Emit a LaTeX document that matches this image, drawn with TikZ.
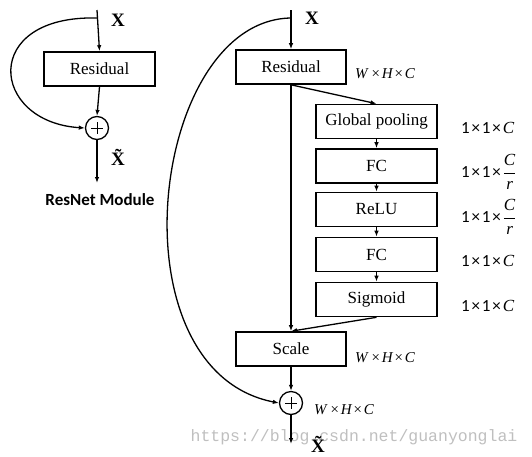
\documentclass[tikz,border=0pt]{standalone}
\usepackage{fontspec}
\setmainfont{Liberation Serif}
\newfontfamily\carl{Carlito}
\newfontfamily\wmono{Liberation Mono}
\usetikzlibrary{arrows.meta,calc}
\tikzset{
  box/.style={draw, line width=1.6pt, minimum height=34pt, inner sep=0pt, font=\fontsize{17}{20}\selectfont},
  sbox/.style={box, minimum width=121pt},
  rbox/.style={box, minimum width=110pt},
  arr/.style={line width=1.3pt, -{Latex[length=6pt,width=4.5pt]}},
  plus/.style={draw, circle, line width=1.3pt, minimum size=23pt, inner sep=0pt},
  xlab/.style={font=\fontsize{19}{21}\selectfont\bfseries},
  dimlab/.style={anchor=west, inner sep=0pt, font=\fontsize{17}{19}\selectfont},
  whc/.style={anchor=west, inner sep=0pt, font=\fontsize{15}{17}\selectfont\itshape},
}
\newcommand{\onebyone}{{\carl 1\hspace{1.8pt}×\hspace{1.8pt}1\hspace{1.8pt}×\hspace{2pt}}}
\newcommand{\whcdim}{W\hspace{3pt}×\hspace{1pt}H\hspace{1pt}×\hspace{1pt}C}
\begin{document}
\begin{tikzpicture}[x=1pt,y=-1pt]
\useasboundingbox (0,0) rectangle (532,456);
% watermark
\node[text=black!25, font=\fontsize{16.5}{18}\selectfont\wmono] (wm) at (354,437) {https://blog.csdn.net/guanyonglai};

% ---------- left: ResNet module ----------
\coordinate (lt) at (97,10);
\coordinate (lc) at (97,18);
\node[box, minimum width=111pt] (rl) at (99.5,69) {Residual};
\node[plus] (cl) at (97,128) {};
\draw[line width=0.6pt] ($(cl.center)+(-6,0)$) -- ($(cl.center)+(6,0)$) ($(cl.center)+(0,-6)$) -- ($(cl.center)+(0,6)$);
\coordinate (lb) at (97,183);
\draw[arr] (lt) -- (rl.north);
\draw[arr] (rl.south) -- (cl.north);
\draw[arr] (cl.south) -- (lb);
\draw[arr] (lc) .. controls (-20,15) and (-10,122) .. (cl.west);
\node[xlab] (lx) at (118,20) {X};
\node[xlab] (lxt) at (118,157) {\~X};
\node[font=\fontsize{17}{20}\selectfont\carl\bfseries] (rn) at (100,200) {ResNet Module};

% ---------- right: SE module ----------
\coordinate (rt) at (291,10);
\coordinate (rc) at (291,18);
\node[rbox] (rr) at (291,67) {Residual};
\node[sbox] (gp) at (376.5,121.5) {Global pooling};
\node[sbox] (fc1) at (376.5,166) {FC};
\node[sbox] (rl2) at (376.5,209.5) {ReLU};
\node[sbox] (fc2) at (376.5,254.5) {FC};
\node[sbox] (sg) at (376.5,299.5) {Sigmoid};
\node[rbox] (sc) at (291,349) {Scale};
\node[plus] (cr) at (291,403) {};
\draw[line width=0.6pt] ($(cr.center)+(-6,0)$) -- ($(cr.center)+(6,0)$) ($(cr.center)+(0,-6)$) -- ($(cr.center)+(0,6)$);
\coordinate (rb) at (291,444);

\draw[arr] (rt) -- (rr.north);
\draw[arr] (rr.south) -- (sc.north);
\draw[arr] (rr.south) -- (gp.north);
\draw[arr] (gp.south) -- (fc1.north);
\draw[arr] (fc1.south) -- (rl2.north);
\draw[arr] (rl2.south) -- (fc2.north);
\draw[arr] (fc2.south) -- (sg.north);
\draw[arr] (sg.south) -- (sc.north);
\draw[arr] (sc.south) -- (cr.north);
\draw[arr] (cr.south) -- (rb);
\draw[arr] (rc) .. controls (150,20) and (110,370) .. (cr.west);

\node[xlab] (rx) at (312,18) {X};
\node[xlab] (rxt) at (318,444) {\~X};

\node[whc] (d1) at (355,74) {\whcdim};
\node[whc] (d2) at (355,358) {\whcdim};
\node[whc] (d3) at (314,410) {\whcdim};

\node[dimlab] (g1) at (461,128) {\onebyone\textit{C}};
\node[dimlab] (g2) at (461,172) {\onebyone$\displaystyle\frac{\textit{C}}{\textit{r}}$};
\node[dimlab] (g3) at (461,217) {\onebyone$\displaystyle\frac{\textit{C}}{\textit{r}}$};
\node[dimlab] (g4) at (461,261) {\onebyone\textit{C}};
\node[dimlab] (g5) at (461,306) {\onebyone\textit{C}};
\end{tikzpicture}
\end{document}
